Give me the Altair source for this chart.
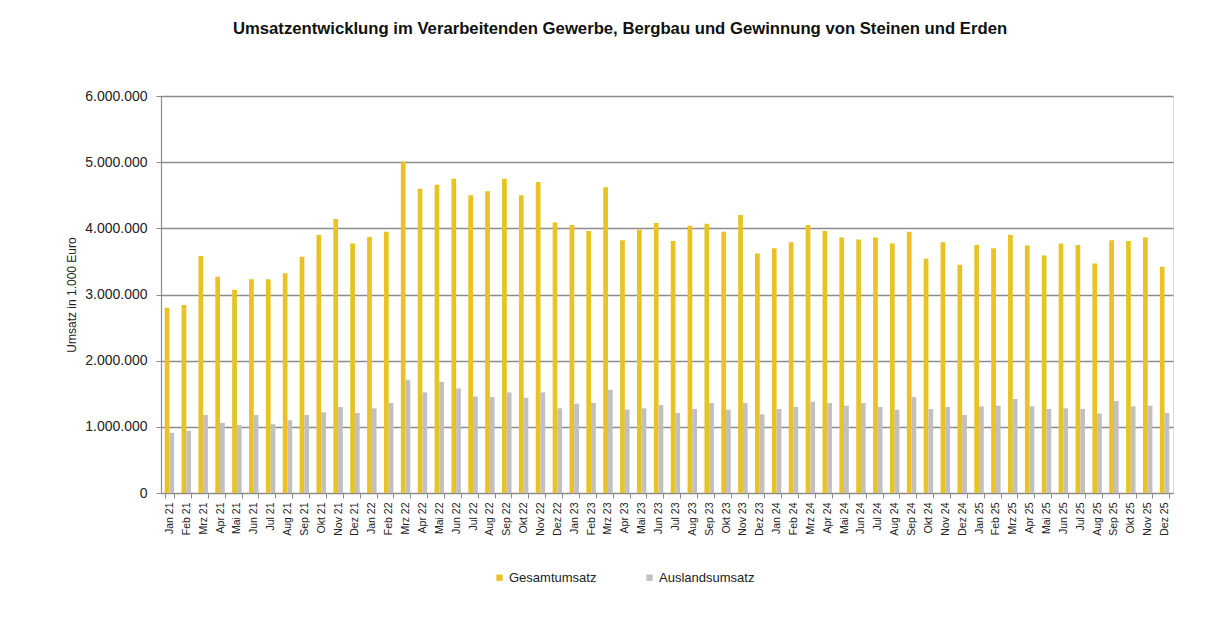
import altair as alt
import pandas as pd

months = ["Jan", "Feb", "Mrz", "Apr", "Mai", "Jun", "Jul", "Aug", "Sep", "Okt", "Nov", "Dez"]
years = ["21", "22", "23", "24", "25"]
categories = [f"{m} {y}" for y in years for m in months]

gesamtumsatz = [
    2800000, 2840000, 3580000, 3270000, 3070000, 3230000, 3230000, 3320000, 3570000, 3900000, 4140000, 3770000,
    3870000, 3950000, 5010000, 4600000, 4660000, 4750000, 4500000, 4560000, 4750000, 4500000, 4700000, 4090000,
    4050000, 3960000, 4620000, 3820000, 3980000, 4080000, 3810000, 4040000, 4070000, 3950000, 4200000, 3620000,
    3700000, 3790000, 4050000, 3960000, 3860000, 3830000, 3860000, 3770000, 3950000, 3540000, 3790000, 3450000,
    3750000, 3700000, 3900000, 3740000, 3590000, 3770000, 3750000, 3470000, 3820000, 3810000, 3860000, 3420000,
]
auslandsumsatz = [
    910000, 940000, 1180000, 1060000, 1030000, 1180000, 1040000, 1100000, 1180000, 1220000, 1300000, 1210000,
    1280000, 1360000, 1710000, 1520000, 1680000, 1580000, 1460000, 1450000, 1520000, 1440000, 1520000, 1280000,
    1350000, 1360000, 1560000, 1260000, 1280000, 1330000, 1210000, 1270000, 1360000, 1260000, 1360000, 1190000,
    1270000, 1300000, 1380000, 1360000, 1320000, 1360000, 1300000, 1260000, 1450000, 1270000, 1300000, 1180000,
    1310000, 1320000, 1420000, 1310000, 1270000, 1280000, 1270000, 1200000, 1390000, 1310000, 1320000, 1210000,
]
series = ["Gesamtumsatz", "Auslandsumsatz"]
colors = ["#E8C323", "#C0C0C0"]
y_ticks = [0, 1000000, 2000000, 3000000, 4000000, 5000000, 6000000]

rows = []
for i, c in enumerate(categories):
    rows.append({"Monat": c, "Reihe": series[0], "Wert": gesamtumsatz[i]})
    rows.append({"Monat": c, "Reihe": series[1], "Wert": auslandsumsatz[i]})
df = pd.DataFrame(rows)

font = "Liberation Sans"

chart = alt.Chart(df).mark_bar().encode(
    x=alt.X(
        "Monat:N",
        sort=categories,
        scale=alt.Scale(paddingInner=0.44, paddingOuter=0.22),
        axis=alt.Axis(
            title=None,
            labelAngle=-90,
            labelFontSize=10.5,
            labelFont=font,
            labelColor="#222222",
            labelPadding=4,
            tickBand="extent",
            tickSize=5,
            tickColor="#8c8c8c",
            domainColor="#8c8c8c",
            domainWidth=1.2,
            labelOverlap=False,
        ),
    ),
    xOffset=alt.XOffset("Reihe:N", sort=series, scale=alt.Scale(paddingInner=0, paddingOuter=0)),
    y=alt.Y(
        "Wert:Q",
        scale=alt.Scale(domain=[0, 6000000], nice=False),
        axis=alt.Axis(
            title="Umsatz  in 1.000 Euro",
            titleFont=font,
            titleFontSize=12,
            titleFontWeight="normal",
            titleColor="#222222",
            titlePadding=6,
            values=y_ticks,
            labelExpr="replace(format(datum.value, ','), regexp(',', 'g'), '.')",
            labelFontSize=14,
            labelFont=font,
            labelColor="#222222",
            labelPadding=9,
            tickSize=5,
            tickColor="#8c8c8c",
            domainColor="#8c8c8c",
            domainWidth=1.2,
            grid=True,
            gridColor="#8c8c8c",
            gridWidth=1.3,
        ),
    ),
    color=alt.Color(
        "Reihe:N",
        sort=series,
        scale=alt.Scale(domain=series, range=colors),
        legend=alt.Legend(
            title=None,
            orient="none",
            direction="horizontal",
            legendX=332,
            legendY=475,
            symbolType="square",
            symbolSize=40,
            symbolStrokeWidth=0,
            labelFont=font,
            labelFontSize=13,
            labelColor="#222222",
            labelOffset=3,
            columnPadding=46,
        ),
    ),
).properties(
    width=1012,
    height=397,
    title=alt.TitleParams(
        "Umsatzentwicklung im Verarbeitenden Gewerbe, Bergbau und Gewinnung von Steinen und Erden",
        font=font,
        fontSize=16.7,
        fontWeight="bold",
        color="#111111",
        dx=-47,
        offset=51,
    ),
    autosize=alt.AutoSizeParams(type="none"),
    padding={"left": 153, "top": 88, "right": 40, "bottom": 110},
).configure_view(stroke=None).configure(background="white")

chart.save("out.html", embed_options={"renderer": "svg", "actions": False})
